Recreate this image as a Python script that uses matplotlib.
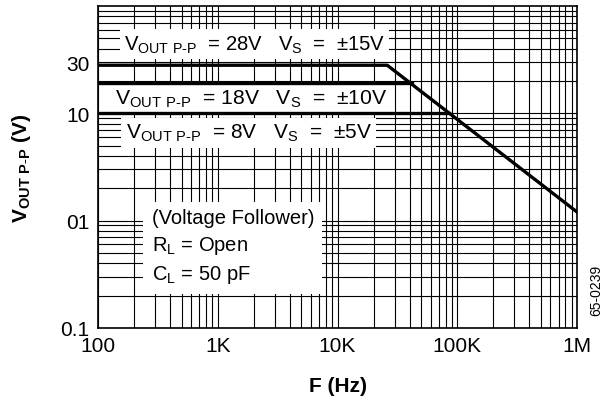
import matplotlib
matplotlib.use('Agg')
from matplotlib import pyplot as plt
from matplotlib.ticker import FixedLocator, NullFormatter, LogLocator

plt.rcParams['font.family'] = ['Liberation Sans', 'DejaVu Sans']
plt.rcParams['mathtext.fontset'] = 'custom'
plt.rcParams['mathtext.rm'] = 'Liberation Sans'
plt.rcParams['mathtext.bf'] = 'Liberation Sans:bold'

# data
freq_28 = [100, 26e3, 1e6]
vout_28 = [28, 28, 1.2]
freq_18 = [100, 42e3]
vout_18 = [19, 19]
freq_8 = [100, 85e3]
vout_8 = [10, 10]

x_ticks = [100, 1e3, 1e4, 1e5, 1e6]
x_labels = ['100', '1K', '10K', '100K', '1M']
y_ticks = [0.1, 1, 10, 30]
y_labels = ['0.1', '01', '10', '30']

fig = plt.figure(figsize=(6.03, 4.06), dpi=100)
ax = fig.add_axes([0.1625, 0.19, 0.7945, 0.793])
ax.set_xscale('log')
ax.set_yscale('log')
ax.set_xlim(100, 1e6)
ax.set_ylim(0.1, 100)

ax.xaxis.set_minor_locator(LogLocator(base=10, subs=range(2, 10)))
ax.yaxis.set_minor_locator(LogLocator(base=10, subs=range(2, 10)))
ax.xaxis.set_minor_formatter(NullFormatter())
ax.yaxis.set_minor_formatter(NullFormatter())
ax.grid(True, which='both', color='black', lw=0.8)
ax.set_axisbelow(True)

ax.xaxis.set_major_locator(FixedLocator(x_ticks))
ax.set_xticklabels(x_labels)
ax.yaxis.set_major_locator(FixedLocator(y_ticks))
ax.set_yticklabels(y_labels)
ax.tick_params(which='both', length=0, labelsize=15, pad=6)
for s in ax.spines.values():
    s.set_color('black')
    s.set_linewidth(1.2)

ax.plot(freq_28, vout_28, color='black', lw=2.4, zorder=5)
ax.plot(freq_18, vout_18, color='black', lw=2.4, zorder=5)
ax.plot(freq_8, vout_8, color='black', lw=2.4, zorder=5)

box = dict(facecolor='white', edgecolor='none', pad=3)
ax.text(165, 44, r'V$_{\mathregular{OUT\ P\text{-}P}}$  = 28V   V$_{\mathregular{S}}$  =  ±15V',
        fontsize=14.6, ha='left', va='center', bbox=box, zorder=4)
ax.text(138, 13.8, r'V$_{\mathregular{OUT\ P\text{-}P}}$  = 18V   V$_{\mathregular{S}}$  =  ±10V',
        fontsize=15.2, ha='left', va='center', bbox=box, zorder=4)
ax.text(170, 6.6, r'V$_{\mathregular{OUT\ P\text{-}P}}$  = 8V   V$_{\mathregular{S}}$  =  ±5V',
        fontsize=15, ha='left', va='center', bbox=box, zorder=4)
ax.text(280, 0.57, '(Voltage Follower)\n' + r'R$_{\mathregular{L}}$ = Open' + '\n' + r'C$_{\mathregular{L}}$ = 50 pF',
        fontsize=14.5, ha='left', va='center', linespacing=1.45,
        bbox=dict(facecolor='white', edgecolor='none', pad=6), zorder=4)

ax.set_xlabel('F (Hz)', fontsize=15, fontweight='bold', labelpad=15)
ax.set_ylabel(r'$\mathbf{V_{OUT\ P\text{-}P}}$ (V)', fontsize=15, fontweight='bold', labelpad=20)

fig.text(0.988, 0.285, '65-0239', rotation=90, fontsize=10, ha='center', va='center')

fig.savefig('out.png', dpi=100)
